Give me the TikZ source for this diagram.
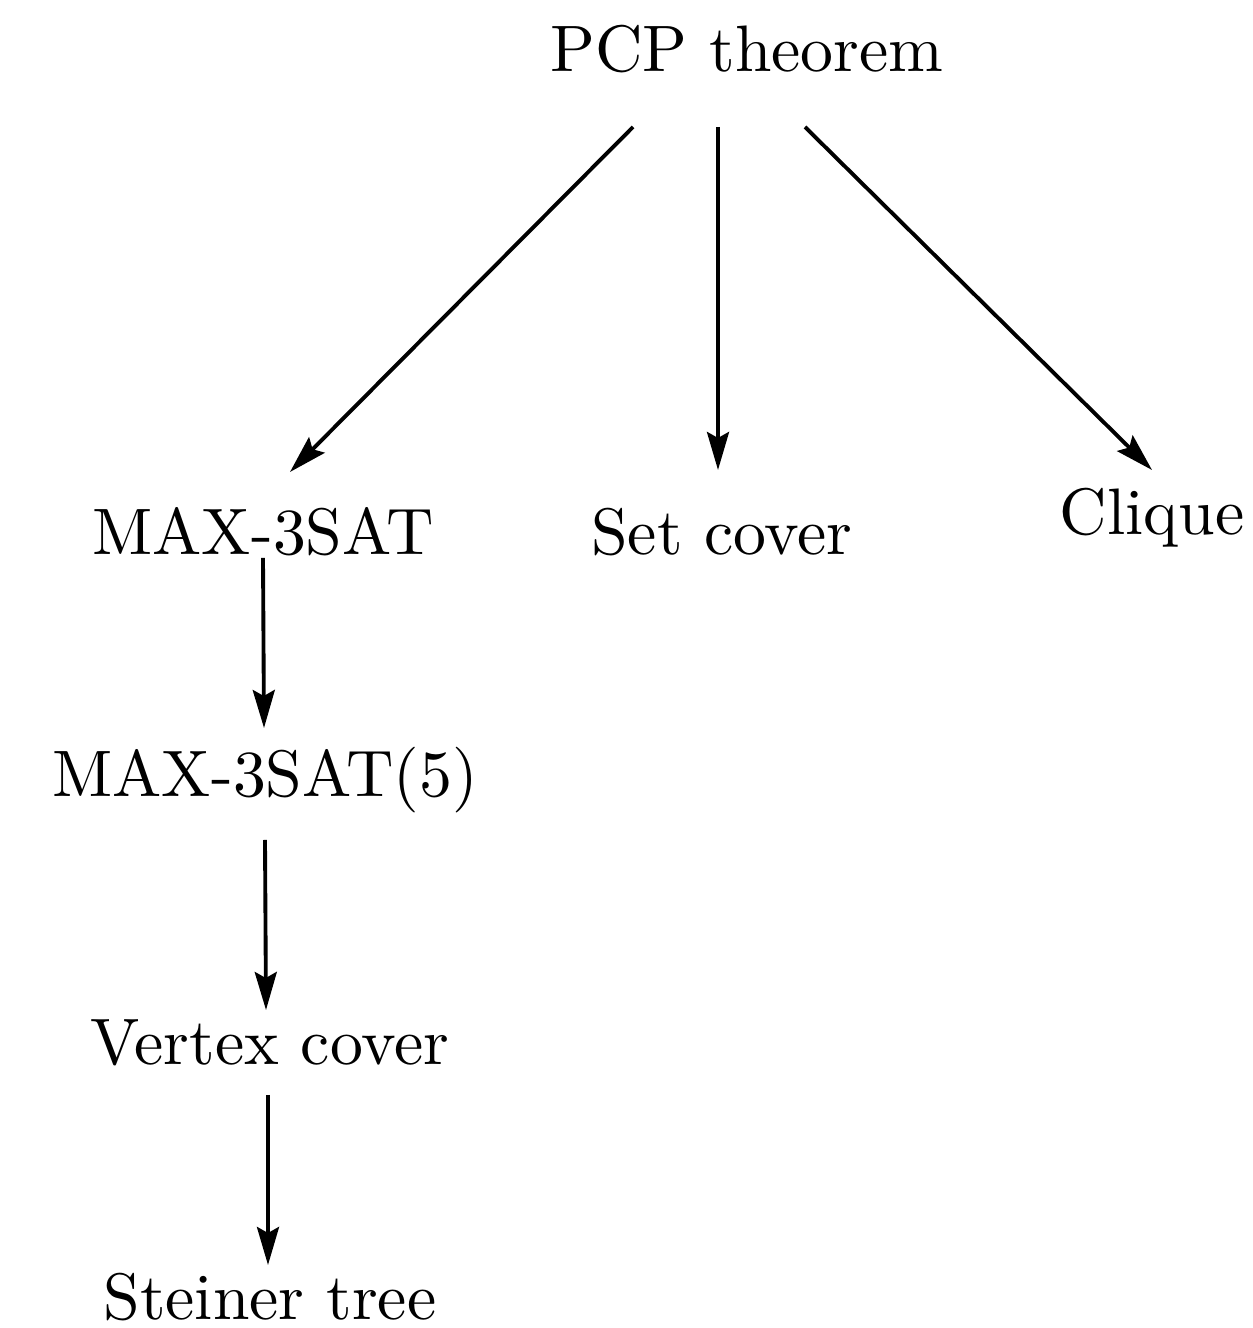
\documentclass[tikz,border=0pt]{standalone}
\usepackage{fontspec}
\newfontfamily\cmten[Extension=.otf]{lmroman10-regular}
\usepackage{tikz}
\usetikzlibrary{arrows.meta, positioning, calc}
\usepackage{xcolor}

\begin{document}
\begin{tikzpicture}[
    every node/.style={font=\cmten\fontsize{18.7}{22}\selectfont},
    problem/.style={
        inner sep=0pt,
        anchor=base
    },
    reduction/.style={
        draw=black,
        line width=1.1pt,
        -{Stealth[length=0.38cm, width=0.22cm, inset=0.06cm]}
    }
]

\useasboundingbox (0,0) rectangle (12.52,13.28);

% ============================================================
% PROBLEMAS
% ============================================================

\node[problem] (pcp) at (7.47,12.56) {PCP theorem};

\node[problem] (max3sat) at (2.63,7.73) {MAX-3SAT};
\node[problem] (setcover) at (7.22,7.73) {Set cover};
\node[problem] (clique) at (11.52,7.93) {Clique};

\node[problem] (max5) at (2.65,5.31) {MAX-3SAT(5)};
\node[problem] (vcover) at (2.70,2.63) {Vertex cover};
\node[problem, text depth=0pt] (steiner) at (2.70,0.08) {Steiner tree};

% ============================================================
% REDUÇÕES
% ============================================================

\draw[reduction]
([shift={(-1.14,-0.55)}]pcp.base) --
([shift={(0.27,0.83)}]max3sat.base);

\draw[reduction]
([shift={(-0.29,-0.55)}]pcp.base) --
([shift={(-0.04,0.85)}]setcover.base);

\draw[reduction]
([shift={(0.58,-0.55)}]pcp.base) --
([shift={(0.00,0.65)}]clique.base);

\draw[reduction]
([shift={(0.00,-0.03)}]max3sat.base) --
([shift={(-0.01,0.69)}]max5.base);

\draw[reduction]
([shift={(0.00,-0.43)}]max5.base) --
([shift={(-0.04,0.55)}]vcover.base);

\draw[reduction]
([shift={(-0.02,-0.30)}]vcover.base) --
([shift={(-0.02,0.55)}]steiner.base);

\end{tikzpicture}
\end{document}
